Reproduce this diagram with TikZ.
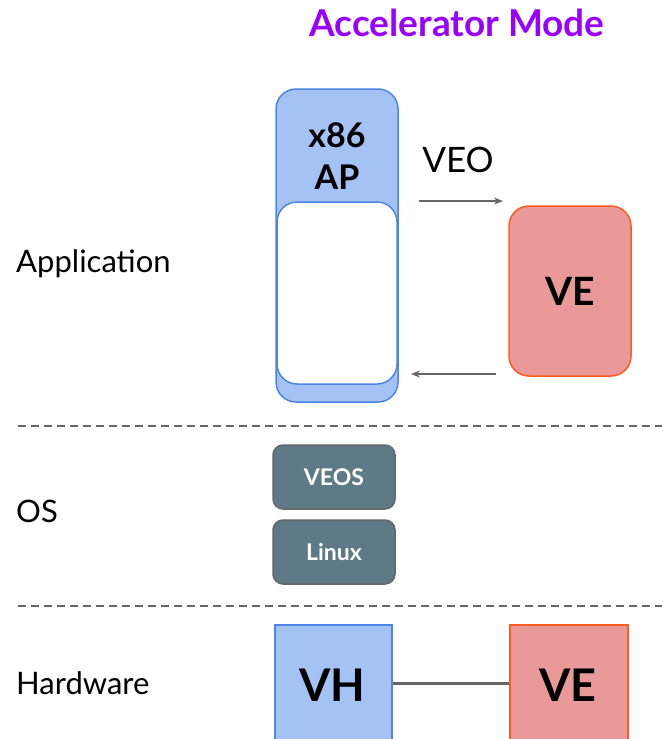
\documentclass[tikz,border=0pt]{standalone}
\usepackage{fontspec}
\setmainfont{Lato}
\usetikzlibrary{arrows.meta}
\definecolor{apfill}{HTML}{A4C2F4}
\definecolor{apdraw}{HTML}{4A86E8}
\definecolor{vefill}{HTML}{EA9999}
\definecolor{vedraw}{HTML}{FF5A1F}
\definecolor{osfill}{HTML}{5F7A87}
\definecolor{linegray}{HTML}{666666}
\definecolor{titlepurple}{HTML}{9900FF}
\tikzset{
  bluebox/.style={fill=apfill,draw=apdraw,line width=1.5pt},
  redbox/.style={fill=vefill,draw=vedraw,line width=1.5pt},
  osbox/.style={fill=osfill,draw=linegray,line width=1.5pt,rounded corners=10pt,minimum width=122pt,minimum height=64pt,text=white,font=\bfseries\fontsize{23}{26}\selectfont},
  layerlabel/.style={anchor=west,font=\fontsize{31}{36}\selectfont,inner sep=0pt},
  sep/.style={draw=linegray,line width=1.2pt,dash pattern=on 8pt off 5pt},
  flow/.style={draw=linegray,line width=1.5pt,-{Stealth[length=9pt,width=7pt]}},
}
\begin{document}
\begin{tikzpicture}[x=1pt,y=-1pt]
\useasboundingbox (0,0) rectangle (662,739);
% title
\node[text=titlepurple,font=\bfseries\fontsize{37}{42}\selectfont] (title) at (457,23) {Accelerator Mode};
% layer labels
\node[layerlabel] (lapp) at (16,264) {Application};
\node[layerlabel] (los) at (16,511) {OS};
\node[layerlabel] (lhw) at (16,683) {Hardware};
% separators
\coordinate (s1a) at (18,426); \coordinate (s1b) at (662,426);
\coordinate (s2a) at (18,606); \coordinate (s2b) at (662,606);
\draw[sep] (s1a) -- (s1b);
\draw[sep] (s2a) -- (s2b);
% AP
\draw[bluebox,rounded corners=20pt] (276,89) rectangle (398,402);
\node[draw=apdraw,fill=white,line width=1.5pt,rounded corners=20pt,minimum width=120pt,minimum height=182pt,inner sep=0pt] (apin) at (337,293) {};
\node[font=\bfseries\fontsize{34}{42}\selectfont,align=center] (ap) at (337,156) {x86\\AP};
% VE app
\node[redbox,rounded corners=20pt,minimum width=122pt,minimum height=170pt,font=\bfseries\fontsize{39}{44}\selectfont] (veapp) at (570,291) {VE};
% VEO
\node[font=\fontsize{35}{40}\selectfont] (veo) at (458,160) {VEO};
\coordinate (a1s) at (419,201); \coordinate (a1e) at (503,201);
\coordinate (a2s) at (496,374); \coordinate (a2e) at (411,374);
\draw[flow] (a1s) -- (a1e);
\draw[flow] (a2s) -- (a2e);
% OS
\node[osbox] (veos) at (334,477) {VEOS};
\node[osbox] (linux) at (334,552) {Linux};
% hardware
\node[bluebox,minimum width=117pt,minimum height=130pt,anchor=north west,inner sep=0pt] (vh) at (274,624) {};
\node[font=\bfseries\fontsize{45}{50}\selectfont] (vht) at (332,685) {VH};
\node[redbox,minimum width=118pt,minimum height=130pt,anchor=north west,inner sep=0pt] (vehw) at (509,624) {};
\node[font=\bfseries\fontsize{45}{50}\selectfont] (veht) at (568,685) {VE};
\draw[linegray,line width=3pt] (vh.east |- 0,683) -- (vehw.west |- 0,683);
\end{tikzpicture}
\end{document}
